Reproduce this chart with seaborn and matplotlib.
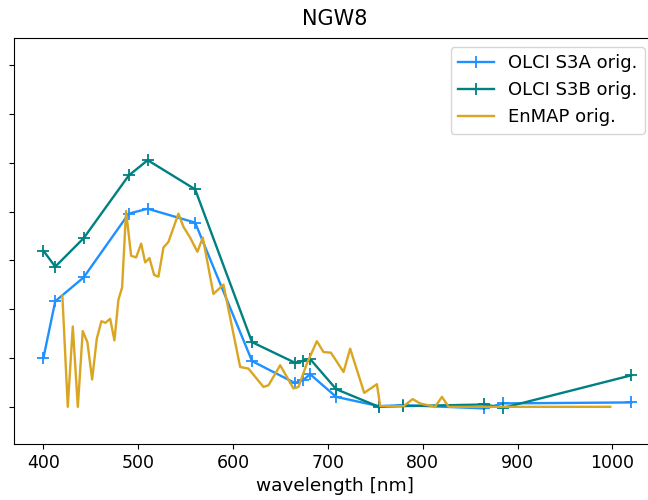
import numpy as np
import pandas as pd
import seaborn as sns
import matplotlib.pyplot as plt

# OLCI band centres (nm) that are plotted
olci_wl = [400, 412.5, 442.5, 490, 510, 560, 620, 665, 673.75, 681.25,
           708.75, 753.75, 778.75, 865, 885, 1020]
s3a = [0.0050, 0.01082, 0.01327, 0.0198, 0.0203, 0.01888, 0.00469, 0.00245,
       0.00272, 0.00334, 0.00102, 0.00007, 0.00017, -0.00016, 0.00035, 0.00045]
s3b = [0.0160, 0.01436, 0.01729, 0.02371, 0.02528, 0.02229, 0.00663, 0.00453,
       0.00469, 0.0049, 0.00181, 0.0, 0.00007, 0.00024, -0.0001, 0.00323]

# EnMAP spectrum
enmap_wl = [420, 425.7, 431, 436.3, 441.5, 446.4, 451.4, 456.3, 461.2, 465.4,
            470.4, 474.9, 479.1, 483, 487.2, 492.5, 497.8, 503.1, 507.3, 511.8,
            516.8, 521.3, 526.6, 531.9, 542.4, 547.7, 554.7, 562.4, 568.1, 579.3,
            589.9, 607.5, 616.2, 632.1, 637.4, 649.7, 663.7, 669, 677.8, 688.4,
            695.4, 703.2, 716.5, 723.5, 738.3, 751.7, 755.2, 780, 789.3, 797.5,
            813, 820.3, 827.3, 997.8]
enmap = [0.0114, 0.0, 0.00823, 0.0, 0.00776, 0.00663, 0.0028, 0.00698, 0.00878, 0.00861,
         0.00902, 0.00681, 0.01096, 0.01224, 0.02007, 0.01548, 0.01531, 0.01673, 0.0148, 0.01524,
         0.01351, 0.01334, 0.01633, 0.01691, 0.0198, 0.01844, 0.01735, 0.01589, 0.01735, 0.01157,
         0.01252, 0.00408, 0.00392, 0.00204, 0.00221, 0.00426, 0.00188, 0.00204, 0.00443, 0.00673,
         0.00561, 0.00555, 0.00357, 0.00596, 0.00143, 0.00232, 0.00007, 0.00007, 0.00079, 0.00034,
         0.0, 0.00102, 0.0, 0.0]

df_a = pd.DataFrame({'wl': olci_wl, 'refl': s3a})
df_b = pd.DataFrame({'wl': olci_wl, 'refl': s3b})
df_e = pd.DataFrame({'wl': enmap_wl, 'refl': enmap})

fig = plt.figure(figsize=(6.48, 5), dpi=100)
ax = fig.add_axes([14/648, 56/500, 642/648, 406.3/500])

sns.lineplot(data=df_a, x='wl', y='refl', ax=ax, color='dodgerblue', marker='+',
             markersize=8, markeredgecolor='dodgerblue', markeredgewidth=1.3,
             linewidth=1.7, label='OLCI S3A orig.')
sns.lineplot(data=df_b, x='wl', y='refl', ax=ax, color='teal', marker='+',
             markersize=8, markeredgecolor='teal', markeredgewidth=1.3,
             linewidth=1.7, label='OLCI S3B orig.')
sns.lineplot(data=df_e, x='wl', y='refl', ax=ax, color='goldenrod',
             linewidth=1.7, label='EnMAP orig.')

ax.set_xlim(369, 1046)
ax.set_ylim(-0.00381, 0.03783)
ax.set_xticks([400, 500, 600, 700, 800, 900, 1000])
ax.set_yticks(np.arange(0, 0.0351, 0.005))
ax.set_yticklabels([])
ax.set_xlabel('wavelength [nm]', fontsize=13.3)
ax.set_ylabel('')
ax.tick_params(axis='x', labelsize=12.5)
ax.set_title('NGW8', fontsize=15, pad=9)

ax.legend(loc='upper right', bbox_to_anchor=(645/648, 1 - 47/500),
          bbox_transform=fig.transFigure, borderaxespad=0, fontsize=13)

fig.savefig('out.png', dpi=100)
